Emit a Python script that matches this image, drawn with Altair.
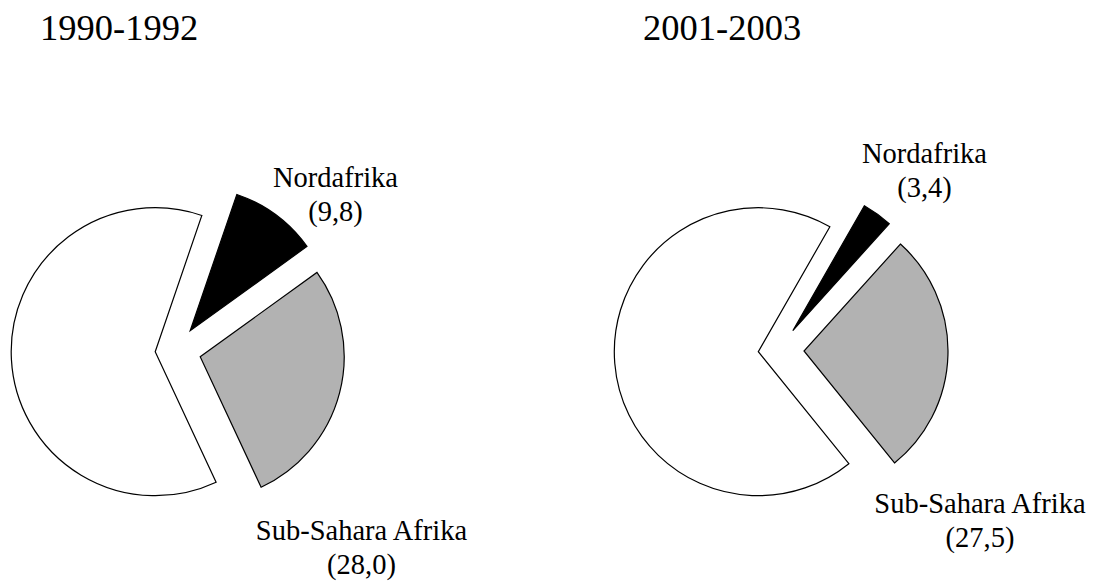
import altair as alt
import pandas as pd

# ---- data ----
periods = ["1990-1992", "2001-2003"]
categories = ["Nordafrika", "Sub-Sahara Afrika", "Rest"]
nordafrika = [9.8, 3.4]
subsahara = [28.0, 27.5]
rest = [62.2, 69.1]
labelled = ["Nordafrika", "Sub-Sahara Afrika"]

# ---- layout / style (chart pixel coordinates) ----
W, H = 1081, 573
R = 144
pie_cx = [147.2, 750.3]
pie_cy = [343.7, 343.7]
start_deg = [18.9, 29.8]
explode = {
    "Nordafrika": [(35, -21), (34.5, -21)],
    "Sub-Sahara Afrika": [(45, 5), (45.7, -0.7)],
    "Rest": [(0, 0), (0, 0)],
}
label_pos = {
    "Nordafrika": [(327.5, 179), (916.5, 155)],
    "Sub-Sahara Afrika": [(353.5, 532), (972, 505)],
}
title_pos = [(32, 32), (635, 32)]
line_gap = 34
fills = ["#000000", "#b2b2b2", "#ffffff"]
FONT = "Liberation Serif"

series = {"Nordafrika": nordafrika, "Sub-Sahara Afrika": subsahara, "Rest": rest}

rows = []
for i, p in enumerate(periods):
    for k, c in enumerate(categories):
        dx, dy = explode[c][i]
        rows.append({
            "period": p, "category": c, "order": k, "value": series[c][i],
            "start": start_deg[i], "cx": pie_cx[i], "cy": pie_cy[i],
            "dx": dx, "dy": dy,
        })
df = pd.DataFrame(rows)

arcs = alt.Chart(df).transform_window(
    cum="sum(value)", groupby=["period"], sort=[alt.SortField("order")], frame=[None, 0]
).transform_calculate(
    t0="(datum.start / 180 * PI) + 2 * PI * (datum.cum - datum.value) / 100",
    t1="(datum.start / 180 * PI) + 2 * PI * datum.cum / 100",
    px="datum.cx + datum.dx",
    py="datum.cy + datum.dy",
).mark_arc(radius=R, stroke="black", strokeWidth=1.2).encode(
    x=alt.X("px:Q", scale=None),
    y=alt.Y("py:Q", scale=None),
    theta=alt.Theta("t0:Q", scale=None, stack=None),
    theta2=alt.Theta2("t1:Q"),
    fill=alt.Fill("category:N", scale=alt.Scale(domain=categories, range=fills), legend=None),
)

lrows = []
for i, p in enumerate(periods):
    for c in labelled:
        lx, ly = label_pos[c][i]
        lrows.append({"period": p, "category": c, "value": series[c][i], "lx": lx, "ly": ly})
ldf = pd.DataFrame(lrows)

names = alt.Chart(ldf).mark_text(
    font=FONT, fontSize=28.5, align="center", baseline="alphabetic", color="black"
).encode(
    x=alt.X("lx:Q", scale=None),
    y=alt.Y("ly:Q", scale=None),
    text="category:N",
)

vals = alt.Chart(ldf).transform_calculate(
    vtxt="'(' + replace(format(datum.value, '.1f'), '.', ',') + ')'",
    vy=f"datum.ly + {line_gap}",
).mark_text(
    font=FONT, fontSize=28.5, align="center", baseline="alphabetic", color="black"
).encode(
    x=alt.X("lx:Q", scale=None),
    y=alt.Y("vy:Q", scale=None),
    text="vtxt:N",
)

tdf = pd.DataFrame({"period": periods, "tx": [t[0] for t in title_pos], "ty": [t[1] for t in title_pos]})
titles = alt.Chart(tdf).mark_text(
    font=FONT, fontSize=36.5, align="left", baseline="alphabetic", color="black"
).encode(
    x=alt.X("tx:Q", scale=None),
    y=alt.Y("ty:Q", scale=None),
    text="period:N",
)

chart = alt.layer(arcs, names, vals, titles).properties(
    width=W, height=H, padding=0, autosize="none", background="white"
).configure_view(stroke=None)

chart.save("out.html", embed_options={"renderer": "svg", "actions": False})
